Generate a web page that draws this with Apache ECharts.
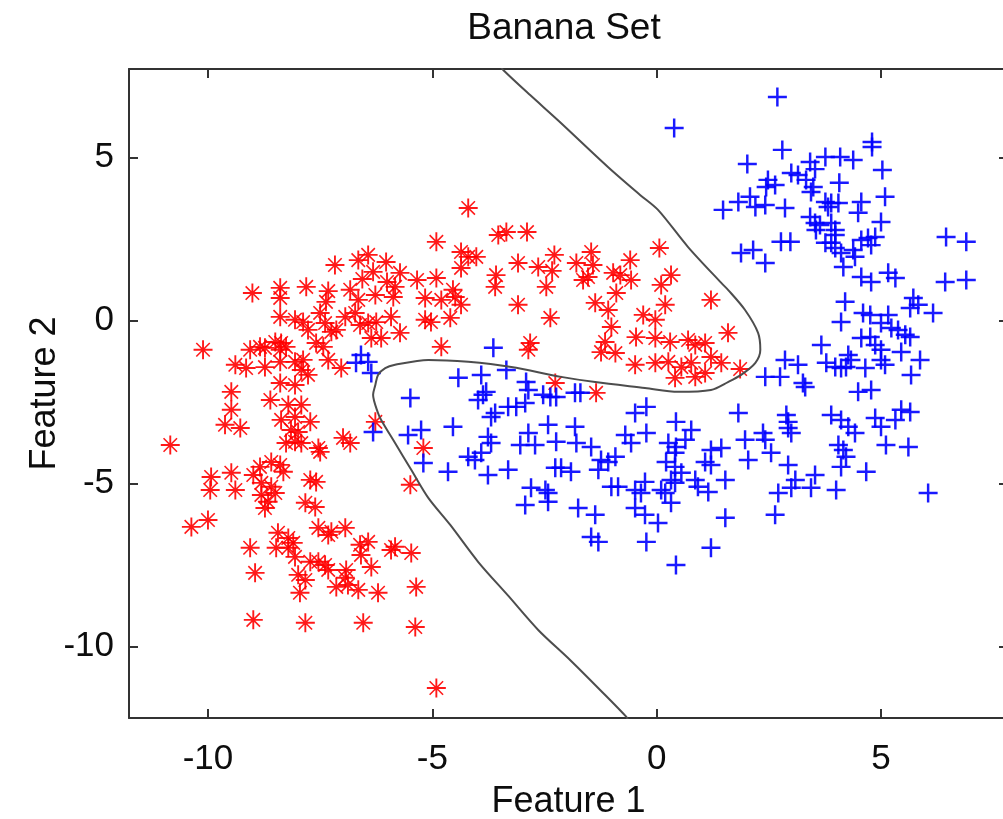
<!DOCTYPE html>
<html>
<head>
<meta charset="utf-8">
<script src="https://cdn.jsdelivr.net/npm/echarts@6/dist/echarts.min.js"></script>
<style>html,body{margin:0;padding:0;background:#fff;overflow:hidden}#chart{width:1003px;height:819px}</style>
</head>
<body>
<div id="chart"></div>
<script>
// ---- data ----
const titleText = 'Banana Set';
const xName = 'Feature 1';
const yName = 'Feature 2';
const xTicks = [-10, -5, 0, 5];
const yTicks = [-10, -5, 0, 5];
const xRange = [-11.76, 7.83];
const yRange = [-12.19, 7.71];

// class 1 (red asterisks)
const redPoints = [
[-7.17,1.70],[-6.43,2.01],[-6.65,1.85],[-6.03,1.79],[-6.32,1.49],[-6.56,1.27],[-5.72,1.46],[-5.34,1.24],[-6.01,1.18],[-9.01,0.84],
[-8.39,1.00],[-7.81,1.03],[-7.32,0.90],[-6.83,0.94],[-8.39,0.69],[-7.37,0.57],[-6.65,0.63],[-5.83,1.03],[-5.87,0.72],[-6.27,0.78],
[-5.16,0.69],[-8.39,0.11],[-8.06,0.02],[-7.88,-0.05],[-7.50,0.23],[-7.39,-0.08],[-7.77,-0.29],[-7.25,-0.35],[-7.14,-0.29],[-6.94,0.11],
[-6.72,0.23],[-6.61,-0.14],[-6.43,-0.08],[-6.25,-0.05],[-6.36,-0.54],[-6.14,-0.54],[-5.92,0.11],[-5.72,-0.38],[-5.16,0.02],[-10.11,-0.90],
[-9.06,-0.90],[-8.84,-0.81],[-8.73,-0.84],[-8.50,-0.66],[-8.37,-0.69],[-8.26,-0.81],[-8.39,-0.90],[-7.59,-0.69],[-7.43,-0.81],[-9.39,-1.36],
[-9.15,-1.46],[-8.73,-1.43],[-8.39,-1.27],[-8.06,-1.27],[-7.88,-1.21],[-7.32,-1.21],[-7.03,-1.46],[-7.92,-1.52],[-7.77,-1.67],[-8.39,-1.92],
[-8.06,-1.98],[-9.48,-2.19],[-9.48,-2.74],[-8.61,-2.44],[-8.21,-2.59],[-7.92,-2.59],[-8.37,-3.05],[-8.06,-2.96],[-7.72,-3.11],[-9.62,-3.20],
[-9.28,-3.30],[-8.15,-3.36],[-7.99,-3.42],[-8.26,-3.76],[-8.06,-3.72],[-7.92,-3.76],[-7.54,-3.91],[-7.50,-4.03],[-6.99,-3.60],[-6.83,-3.76],
[-6.27,-3.11],[-10.84,-3.82],[-5.20,-3.91],[-5.49,-5.04],[-9.93,-4.80],[-9.95,-5.20],[-9.48,-4.67],[-9.39,-5.20],[-8.99,-4.74],[-8.84,-4.49],
[-8.59,-4.34],[-8.39,-4.43],[-8.32,-4.64],[-8.81,-4.98],[-8.59,-5.10],[-8.50,-5.29],[-7.72,-4.89],[-7.59,-4.95],[-8.81,-5.35],[-8.66,-5.56],
[-8.73,-5.75],[-7.83,-5.59],[-7.61,-5.72],[-10.37,-6.33],[-10.00,-6.12],[-9.06,-6.97],[-8.44,-6.51],[-8.21,-6.67],[-8.10,-6.82],[-8.48,-6.97],
[-8.21,-6.97],[-7.54,-6.36],[-7.32,-6.58],[-7.25,-6.48],[-6.94,-6.36],[-6.61,-6.88],[-6.43,-6.79],[-6.59,-7.19],[-5.83,-6.94],[-5.92,-7.04],
[-5.47,-7.13],[-6.36,-7.56],[-8.06,-7.25],[-7.72,-7.40],[-7.54,-7.40],[-7.39,-7.50],[-7.32,-7.65],[-8.95,-7.74],[-7.99,-7.80],[-7.83,-7.96],
[-6.92,-7.65],[-6.94,-7.89],[-7.14,-8.17],[-6.88,-8.11],[-6.65,-8.26],[-7.95,-8.35],[-6.21,-8.35],[-5.36,-8.17],[-8.99,-9.18],[-7.83,-9.27],
[-6.54,-9.27],[-5.38,-9.40],[-4.91,-11.27],[-4.20,3.45],[-4.91,2.41],[-3.53,2.62],[-3.35,2.71],[-2.89,2.71],[-4.36,2.10],[-4.20,1.95],
[-4.02,1.95],[-4.36,1.61],[-4.91,1.30],[-3.58,1.39],[-3.09,1.76],[-2.64,1.64],[-2.28,2.01],[-2.33,1.52],[-1.79,1.76],[-1.46,2.10],
[-1.42,1.70],[-1.53,1.33],[-1.64,1.24],[-0.97,1.46],[-0.81,1.39],[-0.57,1.24],[-0.59,1.85],[0.06,2.22],[0.32,1.39],[0.10,1.09],
[-2.46,1.03],[-3.60,1.03],[-4.54,0.94],[-4.49,0.72],[-4.36,0.48],[-4.80,0.63],[-3.09,0.48],[-2.37,0.08],[-4.60,0.08],[-5.03,-0.05],
[-4.80,-0.81],[-2.82,-0.69],[-2.86,-0.90],[-1.37,0.54],[-1.08,0.32],[-0.90,0.84],[-1.01,-0.20],[-1.15,-0.66],[-0.92,-1.00],[-1.24,-0.97],
[0.19,0.48],[1.21,0.63],[-0.30,0.17],[-0.03,0.02],[-0.46,-0.51],[-0.03,-0.54],[0.30,-0.66],[0.70,-0.60],[0.86,-0.75],[1.08,-0.69],
[1.21,-1.12],[-0.48,-1.36],[-0.03,-1.30],[0.26,-1.27],[0.55,-1.43],[0.77,-1.30],[0.86,-1.73],[1.08,-1.61],[1.44,-1.30],[1.59,-0.38],
[0.41,-1.76],[-2.26,-1.92],[-1.35,-2.22],[1.86,-1.49]
];

// class 2 (blue plus signs)
const bluePoints = [
[0.39,5.90],[1.48,3.39],[2.69,6.85],[4.80,5.47],[4.80,5.32],[2.80,5.23],[2.02,4.80],[3.42,4.86],[3.76,5.01],[4.09,5.01],
[4.38,4.92],[3.53,4.64],[5.03,4.61],[3.00,4.52],[3.15,4.46],[2.48,4.31],[2.64,4.15],[2.44,4.09],[3.33,4.31],[3.49,4.09],
[3.44,3.94],[4.07,4.22],[1.82,3.63],[2.08,3.79],[2.20,3.48],[2.42,3.54],[2.86,3.45],[3.76,3.63],[3.89,3.60],[4.05,3.60],
[3.82,3.48],[4.56,3.63],[5.09,3.79],[4.49,3.30],[5.00,3.02],[3.42,3.17],[3.53,2.99],[3.55,2.77],[3.64,2.93],[3.89,2.99],
[3.98,2.77],[3.98,2.62],[2.77,2.41],[2.98,2.41],[3.76,2.38],[3.89,2.38],[3.98,2.22],[4.56,2.47],[4.71,2.53],[4.87,2.56],
[4.78,2.31],[4.38,2.16],[4.42,1.95],[4.11,2.07],[4.16,1.64],[2.15,2.16],[1.88,2.07],[2.42,1.76],[6.45,2.56],[6.90,2.41],
[5.16,1.46],[4.56,1.33],[4.78,1.18],[5.32,1.30],[6.43,1.18],[6.90,1.24],[4.20,0.57],[5.72,0.69],[5.83,0.48],[5.65,0.38],
[6.16,0.23],[4.60,0.23],[4.76,0.17],[5.16,0.17],[4.11,-0.05],[5.00,-0.08],[5.23,-0.23],[5.38,-0.29],[5.54,-0.44],[5.65,-0.51],
[4.56,-0.54],[4.76,-0.51],[4.87,-0.75],[5.00,-0.90],[3.67,-0.75],[5.45,-0.97],[4.27,-1.06],[4.33,-1.21],[5.00,-1.21],[5.09,-1.36],
[5.87,-1.21],[2.86,-1.21],[3.15,-1.36],[3.78,-1.30],[3.98,-1.43],[4.11,-1.46],[4.22,-1.43],[4.65,-1.46],[5.67,-1.67],[2.42,-1.73],
[2.75,-1.73],[3.26,-1.92],[3.31,-2.04],[4.49,-2.19],[4.78,-2.13],[1.82,-2.84],[2.89,-2.90],[2.93,-3.11],[2.93,-3.30],[3.00,-3.45],
[3.89,-2.90],[4.11,-3.05],[4.27,-3.26],[4.42,-3.45],[4.87,-2.99],[5.00,-3.26],[5.32,-3.05],[5.45,-2.74],[5.65,-2.81],[2.37,-3.45],
[2.42,-3.66],[1.97,-3.66],[2.55,-4.06],[2.04,-4.28],[4.05,-3.82],[4.16,-3.97],[4.22,-4.18],[5.11,-3.82],[5.61,-3.88],[2.93,-4.43],
[4.11,-4.49],[4.67,-4.64],[3.09,-4.89],[3.53,-4.74],[3.00,-5.13],[3.44,-5.13],[4.00,-5.20],[6.05,-5.29],[2.71,-5.29],[-3.64,-0.84],
[-3.35,-1.52],[-4.42,-1.76],[-3.91,-1.67],[-2.91,-1.89],[-3.87,-2.28],[-3.98,-2.44],[-3.80,-2.19],[-2.86,-2.13],[-2.93,-2.53],[-3.13,-2.65],
[-2.53,-2.28],[-2.37,-2.35],[-2.24,-2.35],[-1.82,-2.22],[-1.70,-2.22],[-3.60,-2.84],[-3.69,-2.96],[-3.31,-2.65],[-4.54,-3.26],[-2.42,-3.20],
[-1.82,-3.26],[-2.86,-3.45],[-2.71,-3.82],[-3.76,-3.57],[-3.69,-3.76],[-3.04,-3.82],[-2.24,-3.72],[-1.79,-3.76],[-1.46,-3.88],[-3.91,-4.06],
[-4.20,-4.18],[-4.05,-4.28],[-4.65,-4.64],[-3.76,-4.74],[-3.31,-4.58],[-2.26,-4.52],[-2.13,-4.52],[-1.91,-4.64],[-1.24,-4.28],[-1.08,-4.34],
[-0.92,-4.18],[-1.30,-4.58],[-0.70,-3.51],[-0.57,-3.76],[-0.48,-2.84],[-0.23,-2.65],[-0.23,-3.45],[0.43,-3.11],[0.77,-3.36],[0.64,-3.66],
[0.26,-3.76],[0.43,-3.88],[0.41,-4.06],[1.21,-3.97],[1.44,-3.91],[0.21,-4.34],[0.41,-4.49],[0.55,-4.67],[1.08,-4.34],[1.21,-4.43],
[-2.80,-5.13],[-2.48,-5.20],[-2.42,-5.29],[-1.01,-5.10],[-0.86,-5.10],[-0.48,-5.20],[-0.35,-5.29],[-0.26,-4.95],[0.86,-4.89],[0.92,-5.10],
[1.15,-5.26],[0.32,-4.89],[0.41,-4.98],[1.53,-4.89],[0.10,-5.20],[-5.49,-2.38],[-5.54,-3.51],[-5.25,-3.36],[-5.20,-4.37],[-6.32,-3.42],
[-6.70,-1.30],[-6.59,-1.06],[-6.43,-1.27],[-6.36,-1.61],[-2.93,-5.66],[-2.42,-5.56],[-1.75,-5.75],[-1.37,-5.96],[-1.46,-6.64],[-1.30,-6.79],
[-0.48,-5.75],[-0.26,-5.96],[0.03,-6.21],[-0.23,-6.79],[0.19,-5.29],[0.32,-5.59],[1.21,-6.97],[0.43,-7.50],[1.53,-6.05],[2.64,-5.96]
];

// classifier decision boundary
const boundaryX = [-3.48,-3.42,-2.82,-2.20,-1.08,-0.37,0.03,0.70,1.44,1.59,1.97,2.26,2.31,2.20,1.88,1.59,1.21,0.48,-0.26,-1.37,-2.13,-3.24,-4.20,-5.09,-5.83,-6.05,-6.21,-6.27,-6.32,-6.21,-6.14,-5.83,-5.47,-5.09,-4.60,-3.98,-3.31,-2.64,-1.93,-1.26,-0.68,-0.62];
const boundaryY = [7.80,7.68,6.91,6.14,4.70,3.85,3.39,2.25,1.15,0.94,0.32,-0.38,-0.90,-1.30,-1.67,-1.89,-2.13,-2.19,-2.07,-1.89,-1.73,-1.43,-1.27,-1.21,-1.36,-1.46,-1.67,-1.98,-2.28,-2.84,-3.05,-3.76,-4.58,-5.44,-6.27,-7.40,-8.44,-9.49,-10.41,-11.33,-12.15,-12.30];

// ---- marker shapes ----
const plusPath = 'path://M0,43.5H100V56.5H0Z M43.5,0H56.5V100H43.5Z';
const starPath = 'path://M0,45H100V55H0Z M45,0H55V100H45Z ' +
  'M17.5,11.6L88.4,82.5L82.5,88.4L11.6,17.5Z M88.4,17.5L17.5,88.4L11.6,82.5L82.5,11.6Z';

const axisColor = '#333333';
const textColor = '#0d0d0d';
const font = "'Liberation Sans', Arial, Helvetica, sans-serif";

const chart = echarts.init(document.getElementById('chart'), null, {renderer: 'canvas'});

function makeXAxis(pos, main) {
  return {
    type: 'value', position: pos, min: xRange[0], max: xRange[1],
    name: main ? xName : '', nameLocation: 'middle', nameGap: 66, nameMoveOverlap: false,
    nameTextStyle: {fontFamily: font, fontSize: 36, color: textColor},
    axisLine: {show: true, onZero: false, lineStyle: {color: axisColor, width: 2}},
    axisTick: {show: true, inside: true, length: 9, customValues: xTicks, lineStyle: {color: axisColor, width: 2}},
    axisLabel: {show: main, customValues: xTicks, margin: 24, fontFamily: font, fontSize: 35, color: textColor},
    splitLine: {show: false}
  };
}
function makeYAxis(pos, main) {
  return {
    type: 'value', position: pos, min: yRange[0], max: yRange[1],
    name: main ? yName : '', nameLocation: 'middle', nameGap: 66, nameRotate: 90, nameMoveOverlap: false,
    nameTextStyle: {fontFamily: font, fontSize: 36, color: textColor},
    axisLine: main
      ? {show: true, onZero: false, lineStyle: {color: axisColor, width: 2}}
      : {show: false, onZero: false, lineStyle: {color: 'rgba(0,0,0,0)', width: 0, opacity: 0}},
    axisTick: {show: true, inside: true, length: 9, customValues: yTicks, lineStyle: {color: axisColor, width: 2}},
    axisLabel: {show: main, customValues: yTicks, margin: 15, fontFamily: font, fontSize: 35, color: textColor},
    splitLine: {show: false}
  };
}

chart.setOption({
  animation: false,
  backgroundColor: '#ffffff',
  title: {
    text: titleText, left: 559, top: 5, textAlign: 'center',
    textStyle: {fontFamily: font, fontSize: 37, fontWeight: 'normal', color: textColor}
  },
  grid: {left: 129, top: 69, width: 879, height: 649, show: false, borderWidth: 0,
         containLabel: false, outerBoundsMode: 'none'},
  xAxis: [makeXAxis('bottom', true), makeXAxis('top', false)],
  yAxis: [makeYAxis('left', true), makeYAxis('right', false)],
  series: [
    {
      name: 'class 1', type: 'scatter', xAxisIndex: 0, yAxisIndex: 0,
      data: redPoints, symbol: starPath, symbolSize: 19,
      itemStyle: {color: '#ff0000', opacity: 0.9}, z: 2
    },
    {
      name: 'class 2', type: 'scatter', xAxisIndex: 0, yAxisIndex: 0,
      data: bluePoints, symbol: plusPath, symbolSize: 19,
      itemStyle: {color: '#0000ff', opacity: 0.9}, z: 2
    },
    {
      name: 'boundary', type: 'line', xAxisIndex: 0, yAxisIndex: 0,
      data: boundaryX.map((x, i) => [x, boundaryY[i]]),
      showSymbol: false, smooth: 0.3, clip: true,
      lineStyle: {color: '#4d4d4d', width: 2}, z: 3
    }
  ]
});
</script>
</body>
</html>
